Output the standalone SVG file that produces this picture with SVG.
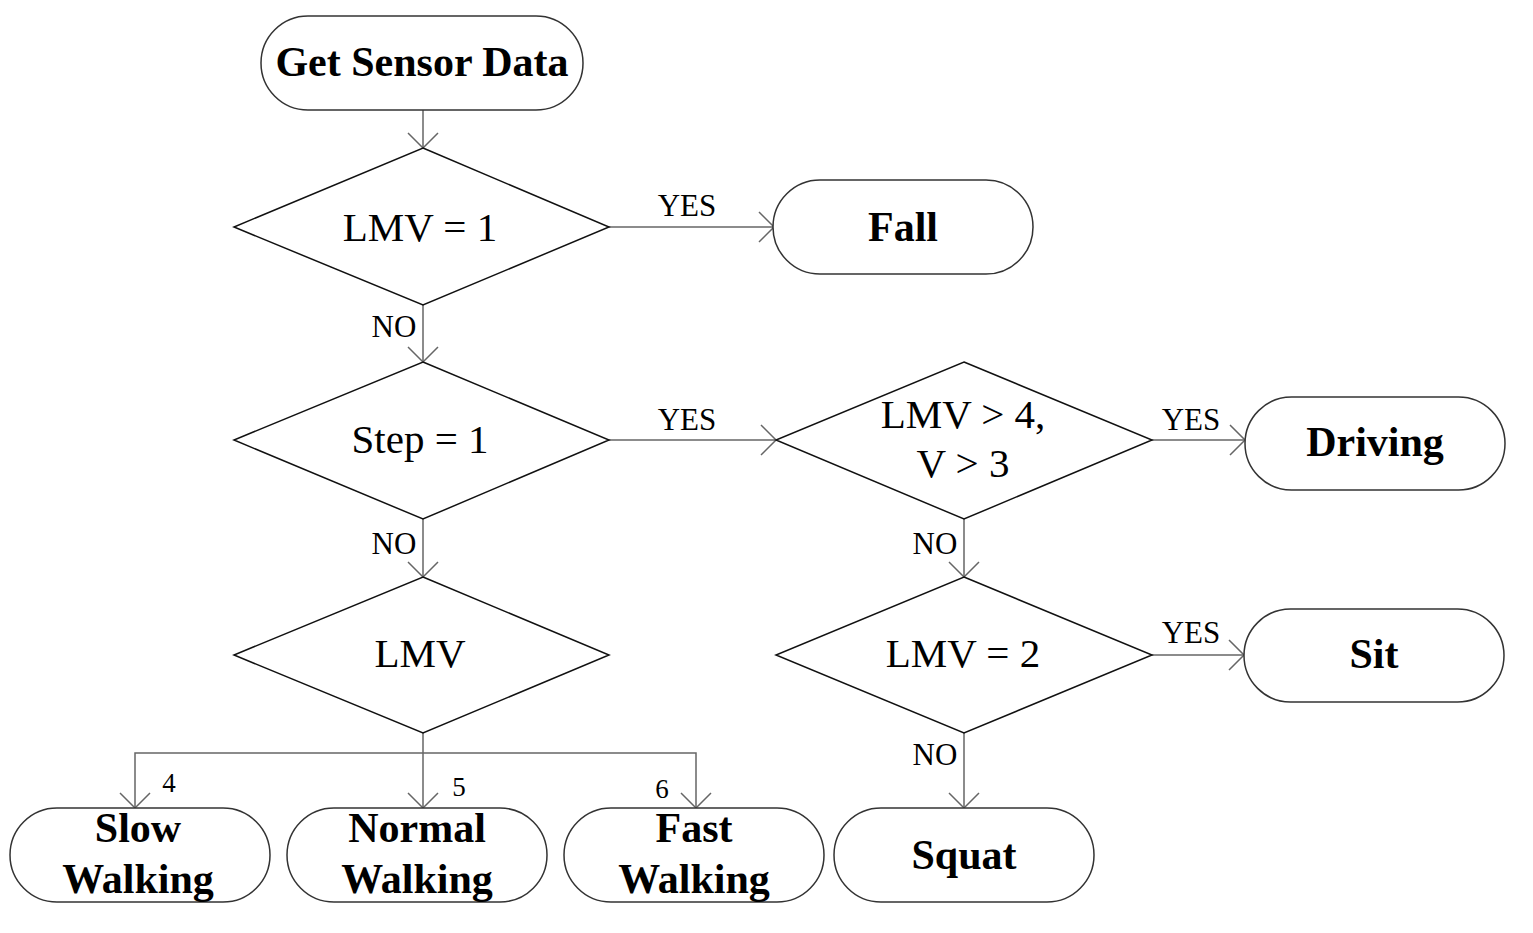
<svg xmlns="http://www.w3.org/2000/svg" width="1533" height="933" viewBox="0 0 1533 933">
<defs>
<marker id="arr" markerUnits="userSpaceOnUse" markerWidth="40" markerHeight="40" viewBox="-20 -20 40 40" refX="0" refY="0" orient="auto">
<path d="M-15,-15 L0,0 L-15,15" fill="none" stroke="#666" stroke-width="1.5"/>
</marker>
<style>
.term{fill:#fff;stroke:#333;stroke-width:1.5}
.dec{fill:#fff;stroke:#111;stroke-width:1.5}
.b{font-family:"Liberation Serif",serif;font-weight:bold;font-size:42px;text-anchor:middle;fill:#000}
.r{font-family:"Liberation Serif",serif;font-size:41px;text-anchor:middle;fill:#000}
.l{font-family:"Liberation Serif",serif;font-size:31px;text-anchor:middle;fill:#000}
.n{font-family:"Liberation Serif",serif;font-size:27px;text-anchor:middle;fill:#000}
.c{fill:none;stroke:#666;stroke-width:1.5}
</style>
</defs>
<rect width="1533" height="933" fill="#fff"/>
<g id="connectors">
<path class="c" d="M423,110 V148" marker-end="url(#arr)"/>
<path class="c" d="M609,227 H774" marker-end="url(#arr)"/>
<path class="c" d="M423,305 V362" marker-end="url(#arr)"/>
<path class="c" d="M609,440 H776" marker-end="url(#arr)"/>
<path class="c" d="M1152,440 H1245" marker-end="url(#arr)"/>
<path class="c" d="M423,519 V577" marker-end="url(#arr)"/>
<path class="c" d="M964,519 V577" marker-end="url(#arr)"/>
<path class="c" d="M1152,655 H1244" marker-end="url(#arr)"/>
<path class="c" d="M964,733 V808" marker-end="url(#arr)"/>
<path class="c" d="M423,733 V753"/>
<path class="c" d="M423,753 H135 V808" marker-end="url(#arr)"/>
<path class="c" d="M423,753 V808" marker-end="url(#arr)"/>
<path class="c" d="M423,753 H696 V808" marker-end="url(#arr)"/>
<text class="l" x="687" y="216">YES</text>
<text class="l" x="394" y="337">NO</text>
<text class="l" x="687" y="430">YES</text>
<text class="l" x="1191" y="430">YES</text>
<text class="l" x="394" y="554">NO</text>
<text class="l" x="935" y="554">NO</text>
<text class="l" x="1191" y="643">YES</text>
<text class="l" x="935" y="765">NO</text>
<text class="n" x="169" y="792">4</text>
<text class="n" x="459" y="796">5</text>
<text class="n" x="662" y="798">6</text>
</g>
<g id="start">
<rect class="term" x="261" y="16" width="322" height="94" rx="47"/>
<text class="b" x="422" y="76">Get Sensor Data</text>
</g>
<g id="d1">
<polygon class="dec" points="423,148 609,227 423,305 234,227"/>
<text class="r" x="420" y="241">LMV = 1</text>
</g>
<g id="fall">
<rect class="term" x="773" y="180" width="260" height="94" rx="47"/>
<text class="b" x="903" y="241">Fall</text>
</g>
<g id="d2">
<polygon class="dec" points="423,362 609,440 423,519 234,440"/>
<text class="r" x="420" y="453">Step = 1</text>
</g>
<g id="d3">
<polygon class="dec" points="964,362 1152,440 964,519 776,440"/>
<text class="r" x="963" y="428">LMV &gt; 4,</text>
<text class="r" x="963" y="477">V &gt; 3</text>
</g>
<g id="driving">
<rect class="term" x="1245" y="397" width="260" height="93" rx="46.5"/>
<text class="b" x="1375" y="456">Driving</text>
</g>
<g id="d4">
<polygon class="dec" points="423,577 609,655 423,733 234,655"/>
<text class="r" x="420" y="667">LMV</text>
</g>
<g id="d5">
<polygon class="dec" points="964,577 1152,655 964,733 776,655"/>
<text class="r" x="963" y="667">LMV = 2</text>
</g>
<g id="sit">
<rect class="term" x="1244" y="609" width="260" height="93" rx="46.5"/>
<text class="b" x="1374" y="668">Sit</text>
</g>
<g id="squat">
<rect class="term" x="834" y="808" width="260" height="94" rx="47"/>
<text class="b" x="964" y="869">Squat</text>
</g>
<g id="slow">
<rect class="term" x="10" y="808" width="260" height="94" rx="47"/>
<text class="b" x="138" y="842">Slow</text>
<text class="b" x="138" y="893">Walking</text>
</g>
<g id="normal">
<rect class="term" x="287" y="808" width="260" height="94" rx="47"/>
<text class="b" x="417" y="842">Normal</text>
<text class="b" x="417" y="893">Walking</text>
</g>
<g id="fast">
<rect class="term" x="564" y="808" width="260" height="94" rx="47"/>
<text class="b" x="694" y="842">Fast</text>
<text class="b" x="694" y="893">Walking</text>
</g>
</svg>
